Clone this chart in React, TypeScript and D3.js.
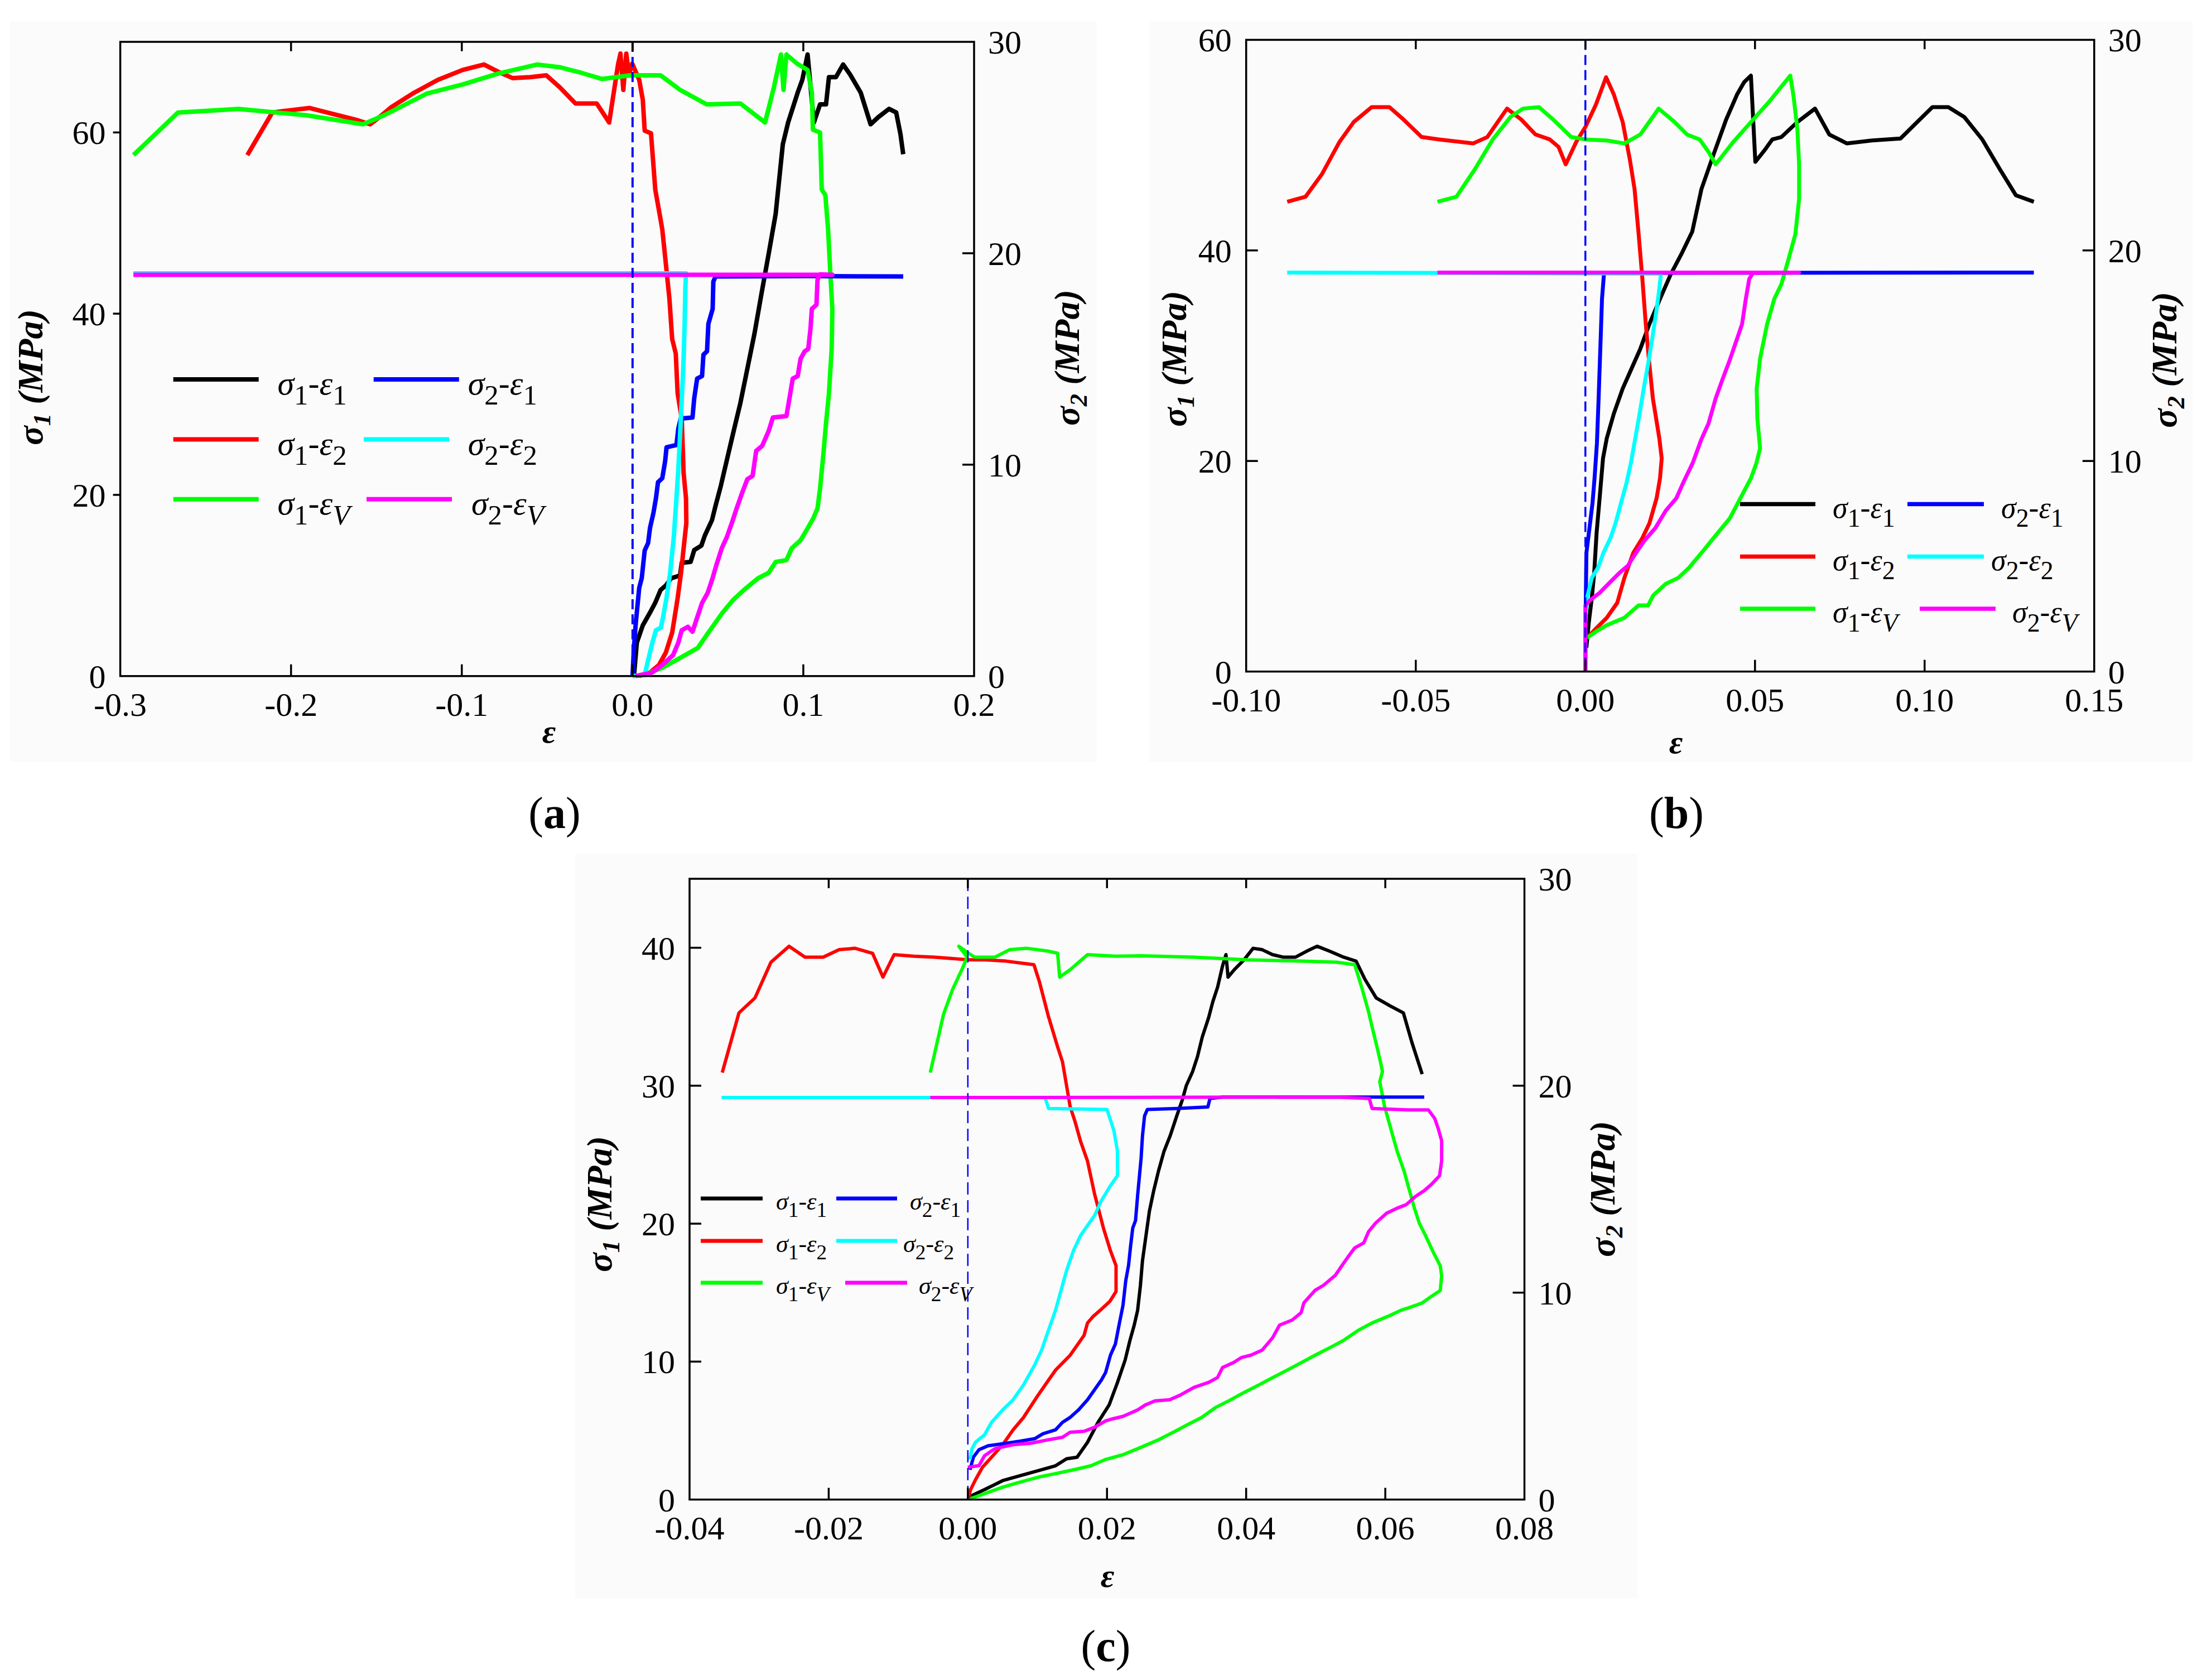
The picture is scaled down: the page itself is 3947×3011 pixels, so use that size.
import React from 'react';
import * as d3 from 'd3';

type Pt = [number, number];

// ---------------- Panel (a) data ----------------
const aXTicks = [-0.3, -0.2, -0.1, 0, 0.1, 0.2];
const aLeftTicks = [0, 20, 40, 60];
const aRightTicks = [0, 10, 20, 30];

const aS1E1: Pt[] = [[0.0008,0],[0.0025,3.7],[0.006,5.6],[0.0102,7.0],[0.0133,8.1],[0.0164,9.5],[0.0195,10.0],[0.0226,10.8],[0.0278,11.1],[0.0288,12.5],[0.034,12.6],[0.0361,13.9],[0.0403,14.4],[0.0423,15.5],[0.0465,17.2],[0.0486,18.8],[0.0517,21.0],[0.0548,23.5],[0.0589,26.8],[0.0631,30.1],[0.0672,33.9],[0.0714,37.8],[0.0755,42.2],[0.0797,46.6],[0.0838,51.0],[0.088,58.7],[0.0911,61.1],[0.0967,64.4],[0.0994,65.8],[0.1025,68.6],[0.1062,61.1],[0.1098,63.1],[0.1133,63.1],[0.115,66.1],[0.1191,66.1],[0.1233,67.5],[0.1274,66.4],[0.1336,64.4],[0.1394,60.9],[0.144,61.7],[0.1502,62.6],[0.1544,62.2],[0.1569,59.8],[0.1585,57.6]];
const aS1E2: Pt[] = [[0.0039,0],[0.0102,0.4],[0.0154,1.2],[0.0195,2.6],[0.0232,4.8],[0.0264,8.6],[0.0284,11.4],[0.0299,14.1],[0.0315,16.9],[0.0313,19.6],[0.0299,22.4],[0.0288,28.4],[0.0264,31.2],[0.0253,35.6],[0.0232,37.2],[0.0216,41.6],[0.0195,45.5],[0.0174,49.3],[0.0164,50.4],[0.0133,53.7],[0.0108,59.9],[0.0071,60.2],[0.006,63.6],[0.0039,65.8],[-0.0002,67.6],[-0.0021,66.4],[-0.0037,68.7],[-0.0054,64.7],[-0.0071,68.7],[-0.0085,67.5],[-0.0137,61.1],[-0.021,63.2],[-0.0334,63.2],[-0.0427,65.0],[-0.0505,66.3],[-0.0599,66.1],[-0.0703,66.0],[-0.0787,66.7],[-0.087,67.5],[-0.0995,66.9],[-0.1141,65.8],[-0.1287,64.3],[-0.1412,62.8],[-0.1495,61.5],[-0.1537,60.9],[-0.162,61.4],[-0.1766,62.1],[-0.1891,62.7],[-0.2027,62.4],[-0.211,62.2],[-0.2256,57.5]];
const aS1EV: Pt[] = [[0.0019,0],[0.0091,0.3],[0.0174,0.9],[0.0278,2.0],[0.0382,3.1],[0.0444,4.8],[0.0527,7.0],[0.0589,8.4],[0.0652,9.5],[0.0735,10.8],[0.0797,11.4],[0.0838,12.6],[0.0901,12.8],[0.0932,14.1],[0.0984,15.0],[0.1025,16.3],[0.1058,17.4],[0.1083,18.5],[0.1098,20.7],[0.1118,24.6],[0.1133,27.9],[0.115,31.2],[0.1166,36.1],[0.117,40.5],[0.116,43.8],[0.1145,49.3],[0.1129,53.1],[0.1108,53.7],[0.1098,60.0],[0.1056,60.3],[0.105,64.4],[0.1025,66.9],[0.0963,67.6],[0.0901,68.6],[0.0884,64.7],[0.0869,68.6],[0.0828,65.0],[0.0776,61.1],[0.0631,63.2],[0.0434,63.1],[0.0278,64.7],[0.0164,66.3],[-0.0012,66.3],[-0.0178,65.9],[-0.0303,66.6],[-0.0427,67.2],[-0.0558,67.5],[-0.0787,66.5],[-0.0995,65.3],[-0.1204,64.3],[-0.1308,63.3],[-0.1454,61.9],[-0.1579,60.9],[-0.1912,61.9],[-0.2308,62.6],[-0.2662,62.2],[-0.2923,57.5]];
const aS2E1: Pt[] = [[0,0],[0.0008,1.34],[0.0019,2.52],[0.0039,4.17],[0.0054,4.64],[0.0071,5.94],[0.0091,6.29],[0.0102,7.0],[0.0122,7.71],[0.0137,8.41],[0.0149,9.17],[0.0174,9.36],[0.0191,10.18],[0.0199,10.82],[0.0257,10.93],[0.0268,11.71],[0.0282,12.18],[0.0351,12.23],[0.0361,13.13],[0.0378,14.07],[0.0407,14.19],[0.0415,15.2],[0.0436,15.36],[0.0444,16.66],[0.0469,17.37],[0.0473,18.66],[0.0486,18.9],[0.1025,18.92],[0.1585,18.9]];
const aS2E2: Pt[] = [[0,0],[0.0071,0.05],[0.0091,0.75],[0.0116,1.58],[0.0137,2.17],[0.0166,2.29],[0.0178,2.76],[0.0199,3.7],[0.022,4.88],[0.0241,6.53],[0.0257,8.41],[0.027,10.06],[0.028,11.71],[0.029,13.36],[0.0299,15.01],[0.0305,16.66],[0.0309,18.31],[0.0313,19.05],[-0.2923,19.05]];
const aS2EV: Pt[] = [[0.0019,0],[0.0112,0.16],[0.0174,0.52],[0.0237,0.99],[0.0268,1.58],[0.0288,2.17],[0.0324,2.33],[0.0351,2.1],[0.0378,2.76],[0.0407,3.46],[0.044,3.94],[0.0469,4.64],[0.049,5.23],[0.0523,6.06],[0.0552,6.57],[0.0583,7.28],[0.061,7.94],[0.0641,8.65],[0.0672,9.31],[0.0703,9.47],[0.0724,10.65],[0.0759,10.89],[0.0797,11.59],[0.0822,12.23],[0.0901,12.3],[0.0921,13.24],[0.0938,14.07],[0.0967,14.19],[0.0984,15.01],[0.1008,15.36],[0.1029,15.48],[0.1042,16.43],[0.105,17.37],[0.1077,17.56],[0.1083,18.74],[0.1098,19.0],[0.117,18.98],[-0.2923,18.98]];

// ---------------- Panel (b) data ----------------
const bXTicks = [-0.1, -0.05, 0, 0.05, 0.1, 0.15];
const bLeftTicks = [0, 20, 40, 60];
const bRightTicks = [0, 10, 20, 30];

const bS1E1: Pt[] = [[0.0003,2.27],[0.001,4.64],[0.0019,7.0],[0.0026,9.37],[0.0033,13.15],[0.0042,16.47],[0.0052,20.25],[0.0063,22.15],[0.0084,24.51],[0.011,26.88],[0.0136,28.77],[0.0162,30.66],[0.0189,33.03],[0.022,35.4],[0.0252,37.76],[0.0283,39.65],[0.0315,41.78],[0.0342,45.81],[0.0378,49.12],[0.0415,52.43],[0.0447,54.8],[0.0468,55.98],[0.0488,56.6],[0.0501,48.41],[0.053,49.59],[0.0551,50.54],[0.0578,50.77],[0.0625,52.19],[0.0677,53.47],[0.0719,51.01],[0.0771,50.16],[0.0845,50.44],[0.0929,50.63],[0.0971,51.96],[0.1023,53.61],[0.107,53.61],[0.1117,52.67],[0.117,50.54],[0.1222,47.7],[0.1269,45.24],[0.1322,44.62]];
const bS1E2: Pt[] = [[0.0005,3.2],[0.0031,4.07],[0.0063,5.11],[0.0094,6.53],[0.0115,8.9],[0.0141,11.26],[0.0168,12.68],[0.0189,14.1],[0.021,16.47],[0.022,18.36],[0.0225,20.25],[0.0218,22.15],[0.0199,25.93],[0.0187,29.72],[0.0178,33.03],[0.0168,37.29],[0.0157,41.55],[0.0145,45.81],[0.0131,48.65],[0.011,52.19],[0.0084,54.8],[0.0061,56.45],[0.0031,53.85],[0.0,51.72],[-0.0027,50.3],[-0.0058,48.17],[-0.0079,49.83],[-0.0105,50.54],[-0.0147,51.01],[-0.0189,52.43],[-0.0231,53.47],[-0.0289,50.77],[-0.0331,50.16],[-0.0431,50.54],[-0.0483,50.77],[-0.0536,52.43],[-0.0578,53.61],[-0.063,53.61],[-0.0683,52.19],[-0.0725,50.3],[-0.0777,47.22],[-0.0825,45.1],[-0.0879,44.62]];
const bS1EV: Pt[] = [[0.0005,3.2],[0.0031,3.79],[0.0063,4.4],[0.0115,5.11],[0.0157,6.29],[0.0185,6.29],[0.02,7.24],[0.0237,8.33],[0.0274,8.9],[0.0305,9.84],[0.0342,11.26],[0.0384,12.92],[0.0426,14.57],[0.0457,16.47],[0.0488,18.36],[0.0504,19.78],[0.0515,21.2],[0.0507,24.04],[0.0505,26.88],[0.0515,29.72],[0.0536,33.03],[0.0557,35.4],[0.0578,36.81],[0.0599,39.18],[0.0619,41.55],[0.063,44.86],[0.063,48.17],[0.0625,51.48],[0.0614,54.56],[0.0604,56.6],[0.0541,54.09],[0.0488,52.19],[0.0436,50.3],[0.0384,48.17],[0.0363,49.35],[0.0337,50.54],[0.03,51.0],[0.0263,52.19],[0.0216,53.47],[0.0162,51.01],[0.0115,50.16],[0.0063,50.44],[0.0,50.54],[-0.0042,50.77],[-0.0095,52.43],[-0.0137,53.61],[-0.0184,53.47],[-0.0221,52.67],[-0.0273,50.54],[-0.0326,47.7],[-0.038,45.1],[-0.0436,44.62]];
const bS2E1: Pt[] = [[0,0],[0.0001,3.03],[0.0003,5.63],[0.0012,6.81],[0.0021,8.0],[0.0027,9.18],[0.0034,10.84],[0.0039,12.97],[0.0044,15.33],[0.0049,17.7],[0.0055,18.93],[0.1322,18.95]];
const bS2E2: Pt[] = [[0,2.32],[0.0005,3.5],[0.0019,4.45],[0.0037,4.92],[0.0053,5.63],[0.0074,6.34],[0.0089,7.05],[0.0105,8.0],[0.0121,8.94],[0.0134,9.89],[0.0147,11.07],[0.016,12.26],[0.0172,13.44],[0.0185,14.62],[0.0197,15.8],[0.0208,16.99],[0.0216,17.93],[0.0223,18.9],[-0.0879,18.95]];
const bS2EV: Pt[] = [[0,0],[0,3.15],[0.0013,3.38],[0.0042,3.74],[0.0074,4.26],[0.01,4.68],[0.0126,5.04],[0.0147,5.58],[0.0174,6.22],[0.0206,6.81],[0.0237,7.64],[0.0268,8.23],[0.0291,9.06],[0.0316,9.89],[0.0342,11.03],[0.0363,11.78],[0.0384,12.97],[0.0405,13.91],[0.0426,14.81],[0.0447,15.8],[0.0462,16.51],[0.0473,17.7],[0.0483,18.64],[0.0494,18.93],[0.063,18.95],[-0.0436,18.95]];

// ---------------- Panel (c) data ----------------
const cXTicks = [-0.04, -0.02, 0, 0.02, 0.04, 0.06, 0.08];
const cLeftTicks = [0, 10, 20, 30, 40];
const cRightTicks = [0, 10, 20, 30];

const cS1E1: Pt[] = [[0.0001,0.18],[0.0024,0.72],[0.005,1.37],[0.0075,1.73],[0.0101,2.09],[0.0126,2.45],[0.0142,2.96],[0.0157,3.07],[0.0172,4.15],[0.0187,5.59],[0.0203,6.85],[0.0215,8.48],[0.0226,10.1],[0.0233,11.54],[0.0239,12.62],[0.0244,13.71],[0.0248,15.51],[0.0251,17.31],[0.0256,19.12],[0.0261,20.92],[0.0267,22.36],[0.0274,23.81],[0.0282,25.25],[0.0291,26.4],[0.03,27.77],[0.0308,28.93],[0.0314,30.01],[0.0323,31.02],[0.033,32.1],[0.0337,33.54],[0.0346,34.92],[0.0352,36.07],[0.0359,37.15],[0.0366,38.67],[0.0371,39.5],[0.0374,37.87],[0.0383,38.41],[0.0397,39.13],[0.041,39.96],[0.0423,39.86],[0.0438,39.5],[0.0453,39.32],[0.0471,39.32],[0.0487,39.75],[0.0502,40.11],[0.052,39.75],[0.054,39.32],[0.0558,39.03],[0.0571,37.69],[0.0587,36.36],[0.0607,35.78],[0.0626,35.28],[0.0638,33.18],[0.0653,30.84]];
const cS1E2: Pt[] = [[0.0001,0.18],[0.0004,0.72],[0.0011,1.44],[0.0021,2.34],[0.0034,3.07],[0.005,3.97],[0.0065,5.05],[0.008,5.95],[0.0101,7.57],[0.0116,8.66],[0.0126,9.38],[0.0147,10.46],[0.0167,11.9],[0.0172,12.8],[0.018,13.27],[0.019,13.71],[0.0204,14.36],[0.0213,15.08],[0.0213,16.95],[0.0205,18.03],[0.0195,19.66],[0.0182,22.18],[0.0172,24.53],[0.0162,25.97],[0.0154,27.41],[0.0147,28.49],[0.0136,31.74],[0.0129,32.82],[0.0116,34.99],[0.0103,37.51],[0.0095,38.77],[0.0055,39.03],[0.0024,39.13],[0.0,39.13],[-0.0027,39.24],[-0.0048,39.32],[-0.0078,39.39],[-0.0106,39.5],[-0.0122,37.87],[-0.0137,39.6],[-0.0162,39.96],[-0.0185,39.86],[-0.0208,39.32],[-0.0234,39.32],[-0.0257,40.11],[-0.0283,38.95],[-0.0306,36.36],[-0.0329,35.28],[-0.0353,30.95]];
const cS1EV: Pt[] = [[0.0004,0.07],[0.0024,0.43],[0.005,0.9],[0.0075,1.26],[0.0101,1.62],[0.0126,1.88],[0.0152,2.16],[0.0177,2.45],[0.0197,2.89],[0.0223,3.25],[0.0249,3.79],[0.0274,4.33],[0.0295,4.87],[0.0315,5.41],[0.0336,5.95],[0.0356,6.67],[0.0377,7.21],[0.0397,7.76],[0.0418,8.3],[0.0438,8.84],[0.0459,9.38],[0.0479,9.92],[0.0499,10.46],[0.052,11.0],[0.054,11.54],[0.0561,12.26],[0.0581,12.8],[0.0607,13.35],[0.0622,13.71],[0.0633,13.89],[0.0653,14.25],[0.0668,14.79],[0.0679,15.15],[0.0681,16.23],[0.0679,16.95],[0.0668,18.03],[0.0658,19.12],[0.0649,20.02],[0.0642,21.1],[0.0635,22.36],[0.0627,23.81],[0.0617,25.25],[0.0607,27.05],[0.0599,28.49],[0.0592,30.3],[0.0596,31.02],[0.0593,31.74],[0.0588,32.82],[0.0581,34.27],[0.0576,35.35],[0.0566,37.15],[0.0556,38.77],[0.053,38.95],[0.0479,39.03],[0.0402,39.13],[0.0325,39.32],[0.0249,39.42],[0.0212,39.39],[0.0172,39.5],[0.0147,38.41],[0.0132,37.87],[0.0129,39.6],[0.0116,39.75],[0.0085,39.96],[0.006,39.86],[0.0039,39.32],[0.001,39.32],[0.0001,39.6],[-0.0013,40.11],[-0.0001,39.32],[-0.0007,38.59],[-0.0022,36.97],[-0.0035,35.17],[-0.0054,30.95]];
const cS2E1: Pt[] = [[0.0003,1.44],[0.0008,2.05],[0.0016,2.41],[0.0029,2.6],[0.0055,2.72],[0.0075,2.82],[0.0096,2.94],[0.0108,3.18],[0.0126,3.37],[0.0136,3.73],[0.0147,3.97],[0.0159,4.33],[0.0172,4.82],[0.0182,5.3],[0.0192,5.78],[0.0198,6.14],[0.0205,6.98],[0.0212,7.51],[0.0218,8.55],[0.0223,9.39],[0.0227,10.59],[0.0231,11.32],[0.0234,12.28],[0.0237,13.12],[0.0241,13.48],[0.0244,14.69],[0.0246,15.41],[0.0249,16.49],[0.0251,17.58],[0.0254,18.54],[0.0258,18.85],[0.03,18.9],[0.0345,18.97],[0.0348,19.38],[0.0366,19.45],[0.0656,19.45]];
const cS2E2: Pt[] = [[0.0003,1.93],[0.0006,2.46],[0.0011,2.77],[0.0024,3.13],[0.0034,3.73],[0.005,4.33],[0.0065,4.82],[0.008,5.54],[0.0096,6.5],[0.0106,7.22],[0.0116,8.19],[0.0126,9.15],[0.0134,10.11],[0.0142,11.08],[0.0152,12.04],[0.0162,12.76],[0.0172,13.24],[0.0182,13.72],[0.0192,14.45],[0.0205,15.17],[0.0215,15.65],[0.0215,16.85],[0.021,17.82],[0.02,18.85],[0.0116,18.9],[0.0111,19.43],[-0.0354,19.43]];
const cS2EV: Pt[] = [[0.0,1.56],[0.0016,1.64],[0.0024,2.12],[0.0039,2.46],[0.0065,2.65],[0.009,2.72],[0.0116,2.89],[0.0136,3.01],[0.0147,3.25],[0.0167,3.3],[0.0182,3.49],[0.0198,3.8],[0.0208,3.9],[0.0223,4.02],[0.0244,4.33],[0.0255,4.57],[0.0269,4.77],[0.029,4.82],[0.0306,5.06],[0.0325,5.42],[0.0346,5.66],[0.0359,5.9],[0.0366,6.38],[0.0382,6.62],[0.0393,6.86],[0.0407,6.98],[0.0423,7.22],[0.0438,7.82],[0.0448,8.43],[0.0466,8.67],[0.0479,9.03],[0.0483,9.51],[0.0499,10.11],[0.0511,10.35],[0.0528,10.83],[0.0538,11.32],[0.0548,11.8],[0.0556,12.16],[0.0569,12.4],[0.0576,12.95],[0.0586,13.36],[0.0602,13.84],[0.0617,14.08],[0.063,14.25],[0.0643,14.64],[0.0656,14.93],[0.0666,15.22],[0.0678,15.65],[0.0681,16.37],[0.0681,17.34],[0.0676,17.94],[0.0671,18.42],[0.0662,18.83],[0.0633,18.83],[0.0581,18.9],[0.0577,19.38],[0.053,19.45],[-0.0054,19.43]];

// ---------------- styling / layout ----------------
const SERIF = '"Liberation Serif", "Times New Roman", serif';
const COLORS = { s1e1: '#000000', s1e2: '#ff0000', s1eV: '#00ff00', s2e1: '#0000ff', s2e2: '#00ffff', s2eV: '#ff00ff' };

type Series = { data: Pt[]; color: string; axis: 'L' | 'R' };
type LegendCfg = { rows: number[]; c1: [number, number]; t1: number; c2: [number, number][]; t2: number[]; fs: number; lw: number };
type PanelCfg = {
  id: string; x0: number; x1: number; yTop: number; yBot: number;
  xDom: [number, number]; yLDom: [number, number]; yRDom: [number, number];
  xTicks: number[]; xFmt: string; lTicks: number[]; rTicks: number[];
  series: Series[]; lw: number; dashW: number; dashArr: string; leftOut: boolean;
  legend: LegendCfg; leftTitle: [number, number]; rightTitle: [number, number];
  xTitle: [number, number]; caption: [number, number]; bg: [number, number, number, number];
};

const panels: PanelCfg[] = [
  {
    id: 'a', x0: 215.6, x1: 1746, yTop: 75, yBot: 1211.7,
    xDom: [-0.3, 0.2], yLDom: [0, 70], yRDom: [0, 30],
    xTicks: aXTicks, xFmt: '.1f', lTicks: aLeftTicks, rTicks: aRightTicks,
    series: [
      { data: aS1E1, color: COLORS.s1e1, axis: 'L' },
      { data: aS1E2, color: COLORS.s1e2, axis: 'L' },
      { data: aS1EV, color: COLORS.s1eV, axis: 'L' },
      { data: aS2E1, color: COLORS.s2e1, axis: 'R' },
      { data: aS2E2, color: COLORS.s2e2, axis: 'R' },
      { data: aS2EV, color: COLORS.s2eV, axis: 'R' },
    ],
    lw: 8, dashW: 4, dashArr: '18 9', leftOut: true,
    legend: { rows: [680, 787.5, 894.7], c1: [310.6, 463.7], t1: 497.5, c2: [[669.7, 822.8], [652, 805], [657, 810]], t2: [838.7, 838.7, 845], fs: 60, lw: 8 },
    leftTitle: [60, 676], rightTitle: [1918, 641], xTitle: [984, 1331], caption: [994, 1484],
    bg: [18, 38, 1966, 1365],
  },
  {
    id: 'b', x0: 2233.7, x1: 3753.8, yTop: 71.4, yBot: 1203.6,
    xDom: [-0.1, 0.15], yLDom: [0, 60], yRDom: [0, 30],
    xTicks: bXTicks, xFmt: '.2f', lTicks: bLeftTicks, rTicks: bRightTicks,
    series: [
      { data: bS1E1, color: COLORS.s1e1, axis: 'L' },
      { data: bS1E2, color: COLORS.s1e2, axis: 'L' },
      { data: bS1EV, color: COLORS.s1eV, axis: 'L' },
      { data: bS2E1, color: COLORS.s2e1, axis: 'R' },
      { data: bS2E2, color: COLORS.s2e2, axis: 'R' },
      { data: bS2EV, color: COLORS.s2eV, axis: 'R' },
    ],
    lw: 7, dashW: 3.5, dashArr: '18 9', leftOut: false,
    legend: { rows: [903.6, 997.4, 1091], c1: [3119, 3254], t1: 3285, c2: [[3419, 3556], [3419, 3556], [3441, 3577]], t2: [3587, 3569, 3607], fs: 54, lw: 7.5 },
    leftTitle: [2110, 643], rightTitle: [3885, 645], xTitle: [3004, 1350], caption: [3005, 1484],
    bg: [2060, 38, 3930, 1365],
  },
  {
    id: 'c', x0: 1236, x1: 2732.5, yTop: 1575, yBot: 2687.6,
    xDom: [-0.04, 0.08], yLDom: [0, 45], yRDom: [0, 30],
    xTicks: cXTicks, xFmt: '.2f', lTicks: cLeftTicks, rTicks: cRightTicks,
    series: [
      { data: cS1E1, color: COLORS.s1e1, axis: 'L' },
      { data: cS1E2, color: COLORS.s1e2, axis: 'L' },
      { data: cS1EV, color: COLORS.s1eV, axis: 'L' },
      { data: cS2E1, color: COLORS.s2e1, axis: 'R' },
      { data: cS2E2, color: COLORS.s2e2, axis: 'R' },
      { data: cS2EV, color: COLORS.s2eV, axis: 'R' },
    ],
    lw: 6, dashW: 2.5, dashArr: '22 10', leftOut: false,
    legend: { rows: [2148, 2224, 2299], c1: [1256, 1367], t1: 1391, c2: [[1499, 1608], [1499, 1608], [1515, 1626]], t2: [1631, 1619, 1647], fs: 44, lw: 7 },
    leftTitle: [1080, 2158], rightTitle: [2878, 2131], xTitle: [1985, 2844], caption: [1982, 2977],
    bg: [1030, 1530, 2935, 2865],
  },
];

const legendColors1 = [COLORS.s1e1, COLORS.s1e2, COLORS.s1eV];
const legendColors2 = [COLORS.s2e1, COLORS.s2e2, COLORS.s2eV];
const legendSubs = ['1', '2', 'V'];

function LegendLabel({ x, y, fs, s, e }: { x: number; y: number; fs: number; s: string; e: string }) {
  const sub = fs * 0.85;
  const d = fs * 0.3;
  return (
    <text x={x} y={y} fontSize={fs} fontFamily={SERIF} fill="#000">
      <tspan fontStyle="italic">σ</tspan>
      <tspan fontSize={sub} dy={d}>{s}</tspan>
      <tspan dy={-d}>-</tspan>
      <tspan fontStyle="italic">ε</tspan>
      <tspan fontSize={sub} dy={d} fontStyle={e === 'V' ? 'italic' : 'normal'}>{e}</tspan>
    </text>
  );
}

function AxisTitle({ x, y, idx }: { x: number; y: number; idx: string }) {
  const fs = 64;
  return (
    <text transform={`translate(${x + fs * 0.25},${y}) rotate(-90)`} textAnchor="middle" fontSize={fs}
      fontFamily={SERIF} fontWeight="bold" fontStyle="italic" fill="#000">
      σ<tspan fontSize={fs * 0.7} dy={fs * 0.22}>{idx}</tspan><tspan dy={-fs * 0.22}> (MPa)</tspan>
    </text>
  );
}

function Panel({ p }: { p: PanelCfg }) {
  const x = d3.scaleLinear().domain(p.xDom).range([p.x0, p.x1]);
  const yL = d3.scaleLinear().domain(p.yLDom).range([p.yBot, p.yTop]);
  const yR = d3.scaleLinear().domain(p.yRDom).range([p.yBot, p.yTop]);
  const fmt = d3.format(p.xFmt);
  const f = (v: number) => fmt(v).replace('\u2212', '-');
  const tl = 21;
  const tickFs = 60;
  const lab = p.legend;
  return (
    <g>
      <rect x={p.bg[0]} y={p.bg[1]} width={p.bg[2] - p.bg[0]} height={p.bg[3] - p.bg[1]} fill="#fbfbfc" />
      {p.series.map((s, i) => {
        const ys = s.axis === 'L' ? yL : yR;
        const line = d3.line<Pt>().x(d => x(d[0])).y(d => ys(d[1]));
        return <path key={i} d={line(s.data) || ''} fill="none" stroke={s.color} strokeWidth={p.lw} strokeLinejoin="round" strokeLinecap="butt" />;
      })}
      <line x1={x(0)} x2={x(0)} y1={p.yTop} y2={p.yBot} stroke="#0000ff" strokeWidth={p.dashW} strokeDasharray={p.dashArr} />
      <rect x={p.x0} y={p.yTop} width={p.x1 - p.x0} height={p.yBot - p.yTop} fill="none" stroke="#000" strokeWidth={3.5} />
      {p.xTicks.slice(1, -1).map((v, i) => (
        <g key={'xt' + i}>
          <line x1={x(v)} x2={x(v)} y1={p.yBot} y2={p.yBot - tl} stroke="#000" strokeWidth={3.5} />
          <line x1={x(v)} x2={x(v)} y1={p.yTop} y2={p.yTop + tl * 0.8} stroke="#000" strokeWidth={3.5} />
        </g>
      ))}
      {p.xTicks.map((v, i) => (
        <text key={'xl' + i} x={x(v)} y={p.yBot + 71.5} textAnchor="middle" fontSize={tickFs} fontFamily={SERIF} fill="#000">{f(v)}</text>
      ))}
      {p.lTicks.filter(v => v > p.yLDom[0] && v < p.yLDom[1]).map((v, i) => (
        <line key={'lt' + i} x1={p.x0} x2={p.leftOut ? p.x0 - 13 : p.x0 + tl} y1={yL(v)} y2={yL(v)} stroke="#000" strokeWidth={3.5} />
      ))}
      {p.lTicks.map((v, i) => (
        <text key={'ll' + i} x={p.x0 - 26} y={yL(v)} dy="0.35em" textAnchor="end" fontSize={tickFs} fontFamily={SERIF} fill="#000">{v}</text>
      ))}
      {p.rTicks.filter(v => v > p.yRDom[0] && v < p.yRDom[1]).map((v, i) => (
        <line key={'rt' + i} x1={p.x1} x2={p.x1 - tl} y1={yR(v)} y2={yR(v)} stroke="#000" strokeWidth={3.5} />
      ))}
      {p.rTicks.map((v, i) => (
        <text key={'rl' + i} x={p.x1 + 25} y={yR(v)} dy="0.35em" textAnchor="start" fontSize={tickFs} fontFamily={SERIF} fill="#000">{v}</text>
      ))}
      <AxisTitle x={p.leftTitle[0]} y={p.leftTitle[1]} idx="1" />
      <AxisTitle x={p.rightTitle[0]} y={p.rightTitle[1]} idx="2" />
      <text x={p.xTitle[0]} y={p.xTitle[1]} textAnchor="middle" fontSize={60} fontFamily={SERIF} fontWeight="bold" fontStyle="italic" fill="#000">ε</text>
      {lab.rows.map((ry, i) => (
        <g key={'lg' + i}>
          <line x1={lab.c1[0]} x2={lab.c1[1]} y1={ry} y2={ry} stroke={legendColors1[i]} strokeWidth={lab.lw} />
          <LegendLabel x={lab.t1} y={ry + lab.fs * 0.45} fs={lab.fs} s="1" e={legendSubs[i]} />
          <line x1={lab.c2[i][0]} x2={lab.c2[i][1]} y1={ry} y2={ry} stroke={legendColors2[i]} strokeWidth={lab.lw} />
          <LegendLabel x={lab.t2[i]} y={ry + lab.fs * 0.45} fs={lab.fs} s="2" e={legendSubs[i]} />
        </g>
      ))}
      <text x={p.caption[0]} y={p.caption[1]} textAnchor="middle" fontSize={80} fontFamily={SERIF} fill="#000">
        (<tspan fontWeight="bold">{p.id}</tspan>)
      </text>
    </g>
  );
}

export default function App() {
  return (
    <svg width={3947} height={3011} viewBox="0 0 3947 3011"
      style={{ position: 'absolute', left: 0, top: 0, display: 'block', background: '#ffffff' }}>
      <rect x={0} y={0} width={3947} height={3011} fill="#ffffff" />
      {panels.map(p => <Panel key={p.id} p={p} />)}
    </svg>
  );
}
